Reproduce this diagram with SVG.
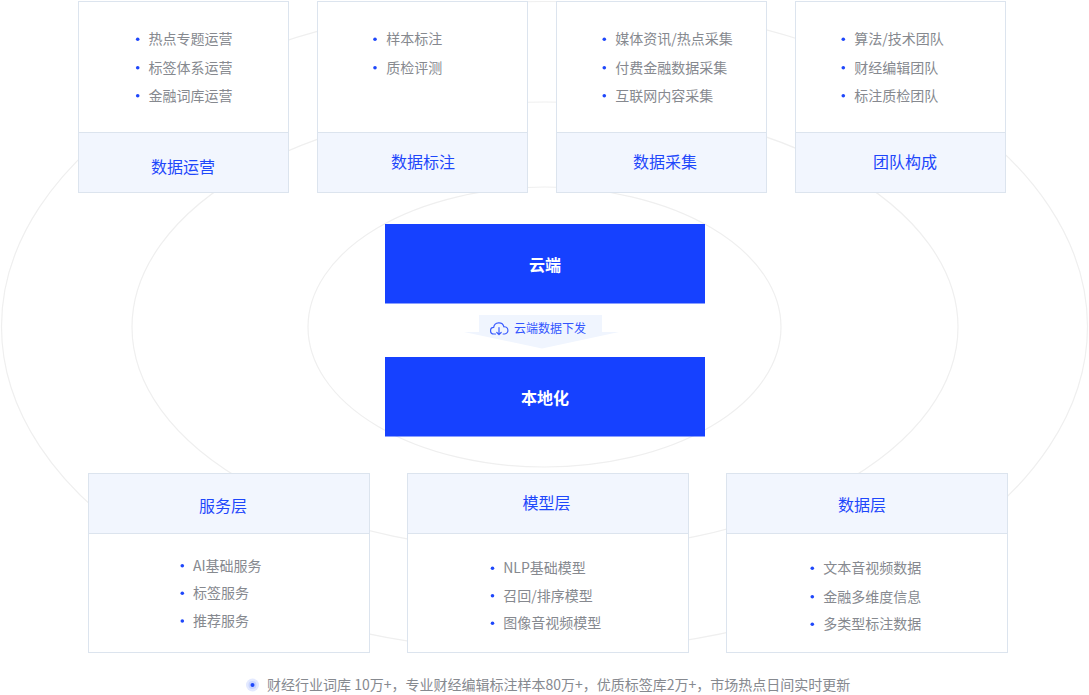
<svg xmlns="http://www.w3.org/2000/svg" width="1089" height="695" viewBox="0 0 1089 695">
<style>
text{font-family:"Noto Sans CJK SC","Noto Sans",sans-serif;dominant-baseline:central}
.ring{fill:none;stroke:#efefef;stroke-width:1.2}
.box{fill:#ffffff;stroke:#dce4ee;stroke-width:1}
.hdr{fill:#f2f6fe;stroke:#dce4ee;stroke-width:1}
.ttl{font-size:16px;fill:#1e47fb;text-anchor:middle}
.item{font-size:14px;fill:#86898f}
.dot{fill:#1e47fb}
.core{fill:#1641ff}
.coret{font-size:16px;font-weight:bold;fill:#ffffff;text-anchor:middle}
</style>
<rect width="1089" height="695" fill="#ffffff"/>
<g id="rings">
<ellipse class="ring" cx="544.5" cy="326.5" rx="543" ry="325"/>
<ellipse class="ring" cx="545" cy="327" rx="413" ry="225"/>
<ellipse class="ring" cx="544.5" cy="327" rx="236.5" ry="140"/>
</g>
<g id="connectors">
<polygon points="479,315 602,315 602,332 619,332 542,348.5 464,332 479,332" fill="#f0f5fe"/>
<g fill="none" stroke="#3a5cff" stroke-width="1.2" stroke-linecap="round" stroke-linejoin="round">
<path d="M495.5,334 h-1.5 a3.3,3.3 0 0 1 -0.3,-6.6 a5.2,5.2 0 0 1 10.2,-0.6 a3.6,3.6 0 0 1 0.8,7.2 h-1.5"/>
<path d="M499,327.5 v7 M496.8,332.5 l2.2,2.2 l2.2,-2.2"/>
</g>
<text x="514" y="327.7" style="font-size:12px;fill:#3355ff">云端数据下发</text>
</g>
<g id="node-yun">
<rect class="core" x="385" y="224" width="320" height="79.5"/>
<text class="coret" x="545" y="264">云端</text>
</g>
<g id="node-local">
<rect class="core" x="385" y="357" width="320" height="79.5"/>
<text class="coret" x="545" y="396.5">本地化</text>
</g>
<g id="node-ops">
<rect class="box" x="78.5" y="1.5" width="210" height="191"/>
<rect class="hdr" x="78.5" y="132.5" width="210" height="60"/>
<text class="ttl" x="183" y="165.7">数据运营</text>
<circle class="dot" cx="137.7" cy="39.3" r="1.8"/><text class="item" x="148.5" y="38.3">热点专题运营</text>
<circle class="dot" cx="137.7" cy="67.7" r="1.8"/><text class="item" x="148.5" y="66.7">标签体系运营</text>
<circle class="dot" cx="137.7" cy="95.7" r="1.8"/><text class="item" x="148.5" y="94.7">金融词库运营</text>
</g>
<g id="node-label">
<rect class="box" x="317.5" y="1.5" width="210" height="191"/>
<rect class="hdr" x="317.5" y="132.5" width="210" height="60"/>
<text class="ttl" x="423" y="160.7">数据标注</text>
<circle class="dot" cx="375" cy="39.3" r="1.8"/><text class="item" x="386.2" y="38.3">样本标注</text>
<circle class="dot" cx="375" cy="67.7" r="1.8"/><text class="item" x="386.2" y="66.7">质检评测</text>
</g>
<g id="node-collect">
<rect class="box" x="556.5" y="1.5" width="210" height="191"/>
<rect class="hdr" x="556.5" y="132.5" width="210" height="60"/>
<text class="ttl" x="665" y="160.7">数据采集</text>
<circle class="dot" cx="604.3" cy="39.3" r="1.8"/><text class="item" x="615.3" y="38.3">媒体资讯/热点采集</text>
<circle class="dot" cx="604.3" cy="67.7" r="1.8"/><text class="item" x="615.3" y="66.7">付费金融数据采集</text>
<circle class="dot" cx="604.3" cy="95.7" r="1.8"/><text class="item" x="615.3" y="94.7">互联网内容采集</text>
</g>
<g id="node-team">
<rect class="box" x="795.5" y="1.5" width="210" height="191"/>
<rect class="hdr" x="795.5" y="132.5" width="210" height="60"/>
<text class="ttl" x="905" y="160.7">团队构成</text>
<circle class="dot" cx="843.3" cy="39.3" r="1.8"/><text class="item" x="854.3" y="38.3">算法/技术团队</text>
<circle class="dot" cx="843.3" cy="67.7" r="1.8"/><text class="item" x="854.3" y="66.7">财经编辑团队</text>
<circle class="dot" cx="843.3" cy="95.7" r="1.8"/><text class="item" x="854.3" y="94.7">标注质检团队</text>
</g>
<g id="node-service">
<rect class="box" x="88.5" y="473.5" width="281" height="179"/>
<rect class="hdr" x="88.5" y="473.5" width="281" height="60"/>
<text class="ttl" x="223" y="505">服务层</text>
<circle class="dot" cx="182.3" cy="565.7" r="1.8"/><text class="item" x="193" y="564.7">AI基础服务</text>
<circle class="dot" cx="182.3" cy="593.3" r="1.8"/><text class="item" x="193" y="592.3">标签服务</text>
<circle class="dot" cx="182.3" cy="621" r="1.8"/><text class="item" x="193" y="620">推荐服务</text>
</g>
<g id="node-model">
<rect class="box" x="407.5" y="473.5" width="281" height="179"/>
<rect class="hdr" x="407.5" y="473.5" width="281" height="60"/>
<text class="ttl" x="546.6" y="502.3">模型层</text>
<circle class="dot" cx="492.5" cy="568.3" r="1.8"/><text class="item" x="503.2" y="567.3">NLP基础模型</text>
<circle class="dot" cx="492.5" cy="595.7" r="1.8"/><text class="item" x="503.2" y="594.7">召回/排序模型</text>
<circle class="dot" cx="492.5" cy="623.3" r="1.8"/><text class="item" x="503.2" y="622.3">图像音视频模型</text>
</g>
<g id="node-data">
<rect class="box" x="726.5" y="473.5" width="281" height="179"/>
<rect class="hdr" x="726.5" y="473.5" width="281" height="60"/>
<text class="ttl" x="862" y="504">数据层</text>
<circle class="dot" cx="812.3" cy="568.3" r="1.8"/><text class="item" x="823.3" y="567.3">文本音视频数据</text>
<circle class="dot" cx="812.3" cy="596.7" r="1.8"/><text class="item" x="823.3" y="595.7">金融多维度信息</text>
<circle class="dot" cx="812.3" cy="624.3" r="1.8"/><text class="item" x="823.3" y="623.3">多类型标注数据</text>
</g>
<g id="footer">
<circle cx="252.5" cy="685" r="6.5" fill="#e3e9ff"/>
<circle cx="252.5" cy="685" r="4" fill="#c9d5ff"/>
<circle cx="252.5" cy="685" r="2" fill="#1e47fb"/>
<text class="item" x="267" y="684">财经行业词库 10万+，专业财经编辑标注样本80万+，优质标签库2万+，市场热点日间实时更新</text>
</g>
</svg>
